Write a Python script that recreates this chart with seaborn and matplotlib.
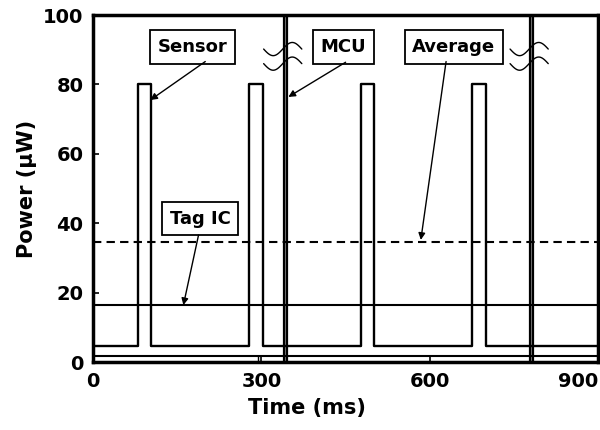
import matplotlib
matplotlib.use("Agg")
import matplotlib.pyplot as plt
import numpy as np
import seaborn as sns

# sensor trace (step waveform): baseline with four 80 uW pulses
sensor_t = [0, 80, 80, 103, 103, 278, 278, 302, 302, 477, 477, 500, 500, 675, 675, 700, 700, 900]
sensor_p = [4.6, 4.6, 80, 80, 4.6, 4.6, 80, 80, 4.6, 4.6, 80, 80, 4.6, 4.6, 80, 80, 4.6, 4.6]

# MCU trace: low floor with two short bursts off the scale
mcu_t = [0, 900]
mcu_p = [1.7, 1.7]
mcu_burst_start = [341, 778]
mcu_burst_end = [346, 783]
mcu_step_t = [294, 294]
mcu_step_p = [0, 1.7]

tag_ic_t = [0, 900]
tag_ic_p = [16.4, 16.4]
avg_t = [0, 900]
avg_p = [34.6, 34.6]

x_ticks = [0, 300, 600, 900]
y_ticks = [0, 20, 40, 60, 80, 100]

sns.set_style("ticks")
plt.rcParams['font.family'] = ['DejaVu Sans']
plt.rcParams['font.weight'] = 'bold'
plt.rcParams['text.color'] = 'black'
plt.rcParams['axes.labelcolor'] = 'black'
plt.rcParams['xtick.color'] = 'black'
plt.rcParams['ytick.color'] = 'black'

fig = plt.figure(figsize=(6, 4.3), dpi=100)
ax = fig.add_axes([0.155, 0.158, 0.842, 0.807])

sns.lineplot(x=sensor_t, y=sensor_p, sort=False, estimator=None, color='black', lw=1.7, ax=ax)
sns.lineplot(x=tag_ic_t, y=tag_ic_p, sort=False, estimator=None, color='black', lw=1.5, ax=ax)
ax.plot(avg_t, avg_p, color='black', lw=1.5, ls=(0, (4, 2.5)))
ax.plot(mcu_t, mcu_p, color='black', lw=1.5)
ax.plot(mcu_step_t, mcu_step_p, color='black', lw=1.0)
for a, b in zip(mcu_burst_start, mcu_burst_end):
    ax.fill_between([a, b], 0, 100, color='#888888', lw=0)
    ax.plot([a, a], [0, 100], color='black', lw=1.6)
    ax.plot([b, b], [0, 100], color='black', lw=1.6)

# break marks (two waves) over the bursts
wx = np.linspace(0, 1, 60)
for xc in [338, 777]:
    for yc in [90.2, 86.0]:
        ax.plot(xc - 34 + 68 * wx, yc + 1.9 * np.sin(2 * np.pi * wx + np.pi), color='black', lw=1.0)

box = dict(boxstyle='square,pad=0.42', fc='white', ec='black', lw=1.3)
ann = [("Sensor", (177, 90.8), (200, 86.6), (102, 75.5)),
       ("MCU", (446, 90.8), (450, 86.4), (348, 76.4)),
       ("Average", (643, 90.8), (629, 86.6), (584, 35.2)),
       ("Tag IC", (191, 41.3), (188, 36.6), (161, 16.4))]
for label, tpos, tail, tip in ann:
    ax.text(tpos[0], tpos[1], label, ha='center', va='center', fontsize=13,
            fontweight='bold', bbox=box)
    ax.annotate("", xy=tip, xytext=tail,
                arrowprops=dict(arrowstyle='-|>', color='black', lw=1.0,
                                mutation_scale=10, shrinkA=0, shrinkB=0))

ax.set_xlim(0, 900)
ax.set_ylim(0, 100)
ax.set_xticks(x_ticks)
ax.set_yticks(y_ticks)
ax.tick_params(direction='in', length=4, width=1.2, labelsize=14, pad=7)
for lab in ax.get_xticklabels():
    lab.set_fontweight('bold')
for lab in ax.get_yticklabels():
    lab.set_fontweight('bold')
ax.get_xticklabels()[-1].set_ha('right')
for s in ax.spines.values():
    s.set_linewidth(2.5)
    s.set_color('black')
ax.set_xlabel('Time (ms)', fontsize=15, fontweight='bold')
ax.set_ylabel('Power (μW)', fontsize=15, fontweight='bold')
ax.xaxis.set_label_coords(0.424, -0.105)
ax.yaxis.set_label_coords(-0.11, 0.5)

fig.savefig('out.png', dpi=100)
